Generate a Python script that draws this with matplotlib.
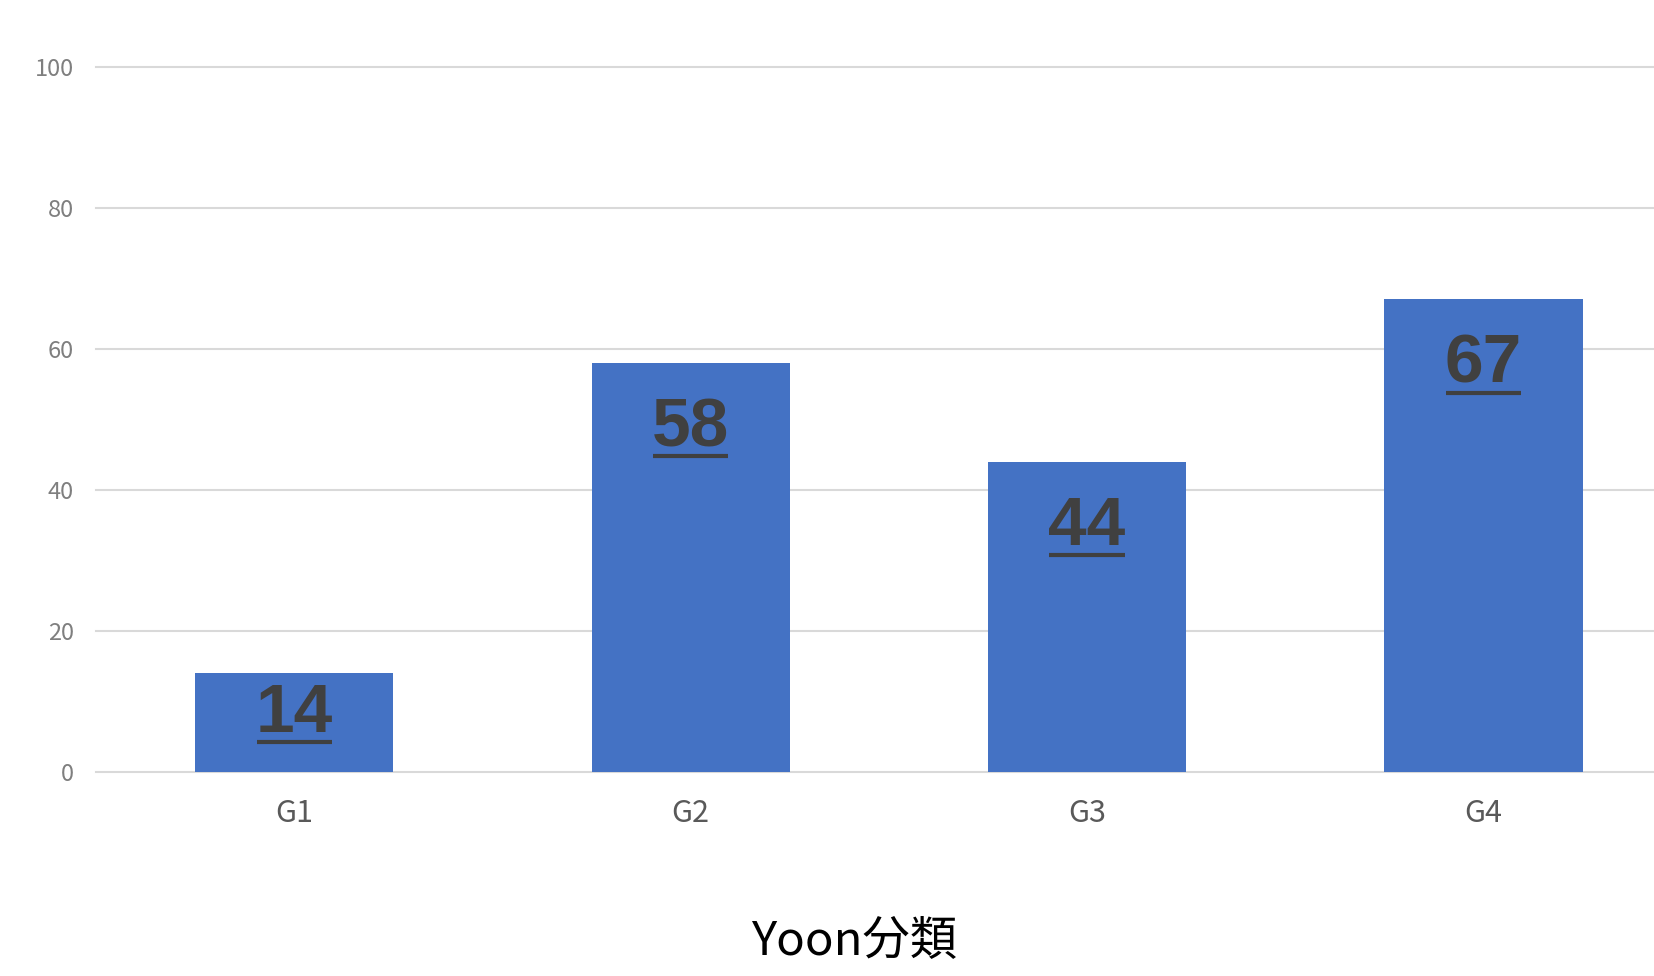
import matplotlib
matplotlib.use("Agg")
import matplotlib.pyplot as plt
from matplotlib.lines import Line2D

# data
groups = ["G1", "G2", "G3", "G4"]
counts = [14, 58, 44, 67]
yticks = [0, 20, 40, 60, 80, 100]
xlabel_text = "Yoon分類"

plt.rcParams['font.family'] = ['Noto Sans CJK JP', 'DejaVu Sans']

fig = plt.figure(figsize=(16.54, 9.76), dpi=100)
ax_h = (772 - 66.5) / 976
ax = fig.add_axes([96 / 1654, 1 - 772 / 976, 1 - 96 / 1654, ax_h])

xs = list(range(len(groups)))
ax.bar(xs, counts, width=0.5, color="#4472C4", zorder=3)

ax.set_xlim(-0.5, 3.43)
ax.set_ylim(0, 100)
ax.set_yticks(yticks)
ax.set_xticks(xs)
ax.set_xticklabels(groups)
for sp in ax.spines.values():
    sp.set_visible(False)
ax.tick_params(axis="both", length=0, colors="#7F7F7F", labelsize=17)
ax.tick_params(axis="y", pad=16)
ax.tick_params(axis="x", pad=19)
for lab in ax.get_xticklabels():
    lab.set_color("#595959")
    lab.set_fontsize(22)
ax.grid(axis="y", color="#D9D9D9", linewidth=1.5, zorder=0)
for gl in ax.get_ygridlines():
    gl.set_clip_on(False)

# value labels, bold + underlined, placed inside the bar end
pt_per_unit = ax_h * 9.76 * 72 / 100
texts = []
for x, v in zip(xs, counts):
    room = v * pt_per_unit - 71
    off = -(6.5 + min(17.7, max(room, 0)))
    t = ax.annotate(str(v), (x, v), xytext=(0, off), textcoords="offset points",
                    ha="center", va="top", fontsize=50, fontweight="bold",
                    color="#404040", family="Liberation Sans", zorder=4)
    texts.append(t)

fig.canvas.draw()
r = fig.canvas.get_renderer()
for t in texts:
    bb = t.get_window_extent(r)
    y = bb.y0 + 4
    line = Line2D([bb.x0 + 1, bb.x1 - 1], [y, y], transform=None, color="#404040",
                  linewidth=3, solid_capstyle="butt", zorder=5)
    fig.add_artist(line)

fig.text(854 / 1654, 1 - 941 / 976, xlabel_text, ha="center", va="center",
         fontsize=34, color="#000000")

fig.savefig("out.png", dpi=100, facecolor="white")
